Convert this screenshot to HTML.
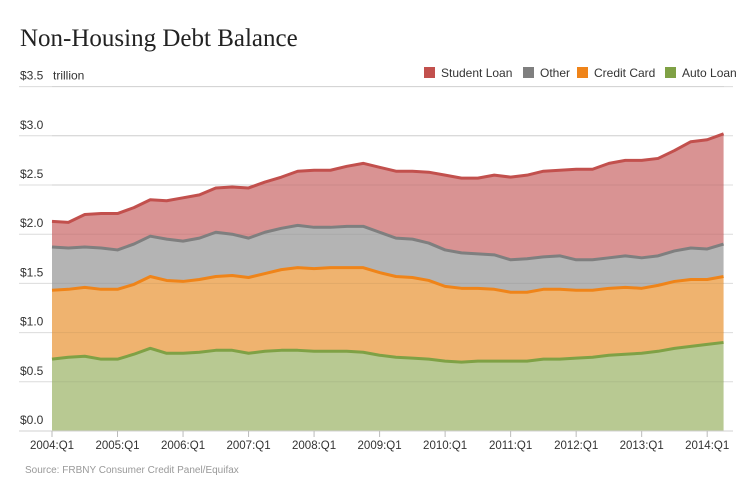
<!DOCTYPE html>
<html><head><meta charset="utf-8">
<style>
body{margin:0;background:#fff;width:744px;height:485px;overflow:hidden;font-family:"Liberation Sans",sans-serif;}
svg{display:block}
</style></head>
<body>
<svg id="chart" width="744" height="485">
<text x="20" y="46" font-family="Liberation Serif, serif" font-size="25" fill="#222">Non-Housing Debt Balance</text>
</svg>
<script>
const quarters = ["2004:Q1","2004:Q2","2004:Q3","2004:Q4","2005:Q1","2005:Q2","2005:Q3","2005:Q4","2006:Q1","2006:Q2","2006:Q3","2006:Q4","2007:Q1","2007:Q2","2007:Q3","2007:Q4","2008:Q1","2008:Q2","2008:Q3","2008:Q4","2009:Q1","2009:Q2","2009:Q3","2009:Q4","2010:Q1","2010:Q2","2010:Q3","2010:Q4","2011:Q1","2011:Q2","2011:Q3","2011:Q4","2012:Q1","2012:Q2","2012:Q3","2012:Q4","2013:Q1","2013:Q2","2013:Q3","2013:Q4","2014:Q1","2014:Q2"];
const autoLoan = [0.73,0.75,0.76,0.73,0.73,0.78,0.84,0.79,0.79,0.80,0.82,0.82,0.79,0.81,0.82,0.82,0.81,0.81,0.81,0.80,0.77,0.75,0.74,0.73,0.71,0.70,0.71,0.71,0.71,0.71,0.73,0.73,0.74,0.75,0.77,0.78,0.79,0.81,0.84,0.86,0.88,0.90];
const creditCard = [0.70,0.69,0.70,0.71,0.71,0.71,0.73,0.74,0.73,0.74,0.75,0.76,0.77,0.79,0.82,0.84,0.84,0.85,0.85,0.86,0.84,0.82,0.82,0.80,0.76,0.75,0.74,0.73,0.70,0.70,0.71,0.71,0.69,0.68,0.68,0.68,0.66,0.67,0.68,0.68,0.66,0.67];
const other = [0.44,0.42,0.41,0.42,0.40,0.41,0.41,0.42,0.41,0.42,0.45,0.42,0.40,0.42,0.42,0.43,0.42,0.41,0.42,0.42,0.41,0.39,0.39,0.38,0.37,0.36,0.35,0.35,0.33,0.34,0.33,0.34,0.31,0.31,0.31,0.32,0.31,0.30,0.31,0.32,0.31,0.33];
const studentLoan = [0.26,0.26,0.33,0.35,0.37,0.37,0.37,0.39,0.44,0.44,0.45,0.48,0.51,0.51,0.52,0.55,0.58,0.58,0.61,0.64,0.66,0.68,0.69,0.72,0.76,0.76,0.77,0.81,0.84,0.85,0.87,0.87,0.92,0.92,0.96,0.97,0.99,0.99,1.02,1.08,1.11,1.12];
const yTicks = [0,0.5,1.0,1.5,2.0,2.5,3.0,3.5];
const yTickLabels = ["$0.0","$0.5","$1.0","$1.5","$2.0","$2.5","$3.0","$3.5"];
const xTickLabels = ["2004:Q1","2005:Q1","2006:Q1","2007:Q1","2008:Q1","2009:Q1","2010:Q1","2011:Q1","2012:Q1","2013:Q1","2014:Q1"];

const NS="http://www.w3.org/2000/svg";
const svg=document.getElementById('chart');
const X0=52, DX=16.38, Y0=431, DY=98.4;
const xs=i=>X0+i*DX;
const ys=v=>Y0-v*DY;
function mk(tag,attrs,parent){const e=document.createElementNS(NS,tag);for(const k in attrs)e.setAttribute(k,attrs[k]);(parent||svg).appendChild(e);return e;}

yTicks.forEach((t,i)=>{
  const g=mk('line',{x1:19,x2:733,y1:ys(t),y2:ys(t),stroke:'#dcdcdc','stroke-width':1});
  
  
  const tx=mk('text',{x:20,y:ys(t)-7,'font-size':12,fill:'#333'});
  tx.textContent=yTickLabels[i];
  
  
});
const unit=mk('text',{x:53,y:ys(3.5)-7,'font-size':12,fill:'#333'});
unit.textContent='trillion';



const series=[
 {name:'auto-loan',vals:autoLoan,line:'#7fa145',fill:'#b8c992'},
 {name:'credit-card',vals:creditCard,line:'#ef8419',fill:'#efb36f'},
 {name:'other',vals:other,line:'#7f7f7f',fill:'#b4b4b4'},
 {name:'student-loan',vals:studentLoan,line:'#c2504d',fill:'#d99393'}
];
let base=quarters.map(()=>0);
const lines=[];
series.forEach(s=>{
  const top=base.map((b,i)=>b+s.vals[i]);
  let d='M'+quarters.map((q,i)=>xs(i)+','+ys(top[i])).join(' L');
  for(let i=quarters.length-1;i>=0;i--) d+=' L'+xs(i)+','+ys(base[i]);
  d+=' Z';
  const a=mk('path',{d:d,fill:s.fill,stroke:'none'});
  
  
  lines.push({s:s,d:'M'+quarters.map((q,i)=>xs(i)+','+ys(top[i])).join(' L')});
  base=top;
});
yTicks.slice(1).forEach(t=>{
  const g=mk('line',{x1:52,x2:724,y1:ys(t),y2:ys(t),stroke:'rgba(0,0,0,0.06)','stroke-width':1});
  
  
});
lines.forEach(o=>{
  const l=mk('path',{d:o.d,fill:'none',stroke:o.s.line,'stroke-width':3,'stroke-linejoin':'round'});
  
  
});
const ax=mk('line',{x1:19,x2:733,y1:Y0,y2:Y0,stroke:'#d0d0d0','stroke-width':1});


xTickLabels.forEach(lab=>{
  const i=quarters.indexOf(lab);
  const tk=mk('line',{x1:xs(i),x2:xs(i),y1:Y0,y2:Y0+6,stroke:'#bbb','stroke-width':1});
  
  
  const tx=mk('text',{x:xs(i),y:Y0+18,'font-size':11.5,fill:'#333','text-anchor':'middle'});
  tx.textContent=lab;
  
  
});
const legend=[['Student Loan','#c2504d',424],['Other','#7f7f7f',523],['Credit Card','#ef8419',577],['Auto Loan','#7fa145',665]];
legend.forEach(l=>{
  const g=mk('g',{});
  
  
  mk('rect',{x:l[2],y:67,width:11,height:11,fill:l[1]},g);
  const t=mk('text',{x:l[2]+17,y:77,'font-size':12,fill:'#333'},g);
  t.textContent=l[0];
});
const src=mk('text',{x:25,y:473,'font-size':10,fill:'#999'});
src.textContent='Source: FRBNY Consumer Credit Panel/Equifax';


</script>
</body></html>
